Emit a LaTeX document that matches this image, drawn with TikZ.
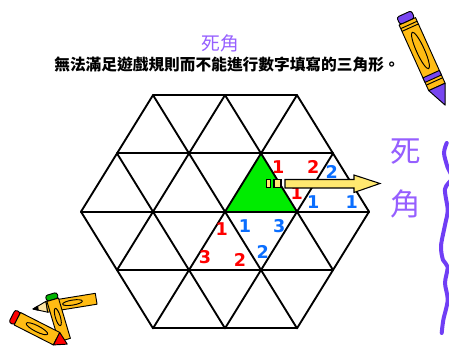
\documentclass[tikz,border=0pt]{standalone}
\usepackage{fontspec}
\usepackage{tikz}
\usetikzlibrary{calc}
\newfontfamily\cjk{Noto Sans CJK TC}
\newfontfamily\numfont{DejaVu Sans}
\definecolor{titlepurple}{RGB}{150,95,255}
\definecolor{wavepurple}{RGB}{112,62,245}
\definecolor{numred}{RGB}{255,0,0}
\definecolor{numblue}{RGB}{10,110,255}
\definecolor{deadgreen}{RGB}{0,236,0}
\definecolor{arrowyellow}{RGB}{255,232,112}
\definecolor{pencilbody}{RGB}{255,188,20}
\definecolor{pencilcap}{RGB}{120,70,240}
\tikzset{
  gridline/.style={line width=1.6pt, line cap=round, line join=round},
  rednum/.style={text=numred, inner sep=0pt, font=\numfont\bfseries\fontsize{15}{15}\selectfont},
  bluenum/.style={text=numblue, inner sep=0pt, font=\numfont\bfseries\fontsize{15}{15}\selectfont},
  arrowpart/.style={draw=black, line width=0.9pt, fill=arrowyellow, line join=miter},
  pencilpart/.style={draw=black, line width=0.8pt, line join=round}
}
\begin{document}
\begin{tikzpicture}[x=0.03cm, y=-0.03cm]
  \useasboundingbox[fill=white] (0,0) rectangle (449,347);
  %%%%% TITLE %%%%%
  \node[text=titlepurple, font=\cjk\fontsize{16}{16}\selectfont] (title) at (220,43) {死角};
  \node[font=\cjk\bfseries\fontsize{13.4}{13.4}\selectfont] (subtitle) at (227,64) {無法滿足遊戲規則而不能進行數字填寫的三角形。};

  %%%%% HEXAGON GRID %%%%%
  \begin{scope}[shift={(6.75cm,-6.351cm)}, x={(2.16cm,0cm)}, y={(1.08cm,1.749cm)}]
    \fill[deadgreen] (0,0) -- (1,0) -- (0,1) -- cycle;
    % rows
    \draw[gridline] (-2,2) -- (0,2);
    \draw[gridline] (-2,1) -- (1,1);
    \draw[gridline] (-2,0) -- (2,0);
    \draw[gridline] (-1,-1) -- (2,-1);
    \draw[gridline] (0,-2) -- (2,-2);
    % rising lines
    \draw[gridline] (-2,0) -- (-2,2);
    \draw[gridline] (-1,-1) -- (-1,2);
    \draw[gridline] (0,-2) -- (0,2);
    \draw[gridline] (1,-2) -- (1,1);
    \draw[gridline] (2,-2) -- (2,0);
    % falling lines
    \draw[gridline] (0,-2) -- (-2,0);
    \draw[gridline] (1,-2) -- (-2,1);
    \draw[gridline] (2,-2) -- (-2,2);
    \draw[gridline] (2,-1) -- (-1,2);
    \draw[gridline] (2,0) -- (0,2);
  \end{scope}

  %%%%% NUMBERS %%%%%
  \node[rednum] (ra) at (278.3,167.3) {1};
  \node[rednum] (rb) at (313.3,166.8) {2};
  \node[bluenum] (ba) at (331.7,172.2) {2};
  \node[rednum] (rc) at (296.7,193.3) {1};
  \node[bluenum] (bb) at (313.3,202) {1};
  \node[bluenum] (bc) at (351.7,201.7) {1};
  \node[rednum] (rd) at (221.7,229) {1};
  \node[bluenum] (bd) at (245,225.7) {1};
  \node[bluenum] (be) at (279.3,225.7) {3};
  \node[rednum] (re) at (205,257) {3};
  \node[rednum] (rf) at (240,260) {2};
  \node[bluenum] (bf) at (262.7,252) {2};

  %%%%% ARROW %%%%%
  \draw[arrowpart] (266.7,179.5) rectangle (270.7,187.5);
  \draw[arrowpart] (274,179.5) rectangle (281,187.5);
  \draw[arrowpart] (285,179.5) -- (354,179.5) -- (354,175) -- (380,183.5)
    -- (354,192.5) -- (354,188) -- (285,188) -- cycle;

  \node[text=titlepurple, font=\cjk\fontsize{26}{26}\selectfont] (side1) at (406,152) {死};
  \node[text=titlepurple, font=\cjk\fontsize{26}{26}\selectfont] (side2) at (406,204) {角};

  %%%%% WAVE %%%%%
  \draw[wavepurple, line width=3.4pt, line cap=round] plot[smooth] coordinates {
    (446.7,143) (444,153) (447.5,167) (452,178) (445,189) (447.7,210)
    (445,225) (441,246) (443,260) (447.7,267) (445,283) (447.7,300)
    (443.3,320) (441.7,333)};

  %%%%% PENCIL TOP RIGHT %%%%%
  \begin{scope}[shift={(404,14)}, rotate=-65.7]
    \draw[pencilpart, fill=pencilbody] (8,-9) rectangle (80,9);
    \draw[pencilpart, fill=pencilcap, rounded corners=2pt] (0,-8) rectangle (8,8);
    \draw[pencilpart] (12,-9) -- (12,9);
    \draw[pencilpart] (15,-9) -- (15,9);
    \draw[pencilpart] (40,0) ellipse (20 and 4);
    \draw[pencilpart, fill=pencilcap] (66,-9) rectangle (71,9);
    \draw[pencilpart] (74,-9) -- (74,9);
    \draw[pencilpart, fill=pencilcap] (80,-9) -- (100,0) -- (80,9) -- cycle;
  \end{scope}

  %%%%% PENCILS BOTTOM LEFT %%%%%
  \begin{scope}[shift={(33,309)}, rotate=9.2]
    \draw[pencilpart, fill=pencilbody!40!white] (0,0) -- (14,-5.5) -- (14,5.5) -- cycle;
    \draw[pencilpart, fill=black] (0,0) -- (5,-2) -- (5,2) -- cycle;
    \draw[pencilpart, fill=pencilbody] (14,-5.5) rectangle (64,5.5);
    \draw[pencilpart] (40,0) ellipse (10 and 2.5);
  \end{scope}
  \begin{scope}[shift={(51,294)}, rotate=-73.5]
    \draw[pencilpart, fill=green!70!black, rounded corners=2pt] (0,-6) rectangle (6,6);
    \draw[pencilpart, fill=pencilbody] (6,-6) rectangle (48,6);
    \draw[pencilpart] (24,0) ellipse (9 and 2.5);
  \end{scope}
  \begin{scope}[shift={(12,316)}, rotate=-27]
    \draw[pencilpart, fill=red, rounded corners=2pt] (0,-7) rectangle (6,7);
    \draw[pencilpart, fill=pencilbody] (6,-7) rectangle (50,7);
    \draw[pencilpart] (28,0) ellipse (12 and 3);
    \draw[pencilpart, fill=red] (50,-7) -- (62,0) -- (50,7) -- cycle;
  \end{scope}
\end{tikzpicture}
\end{document}
